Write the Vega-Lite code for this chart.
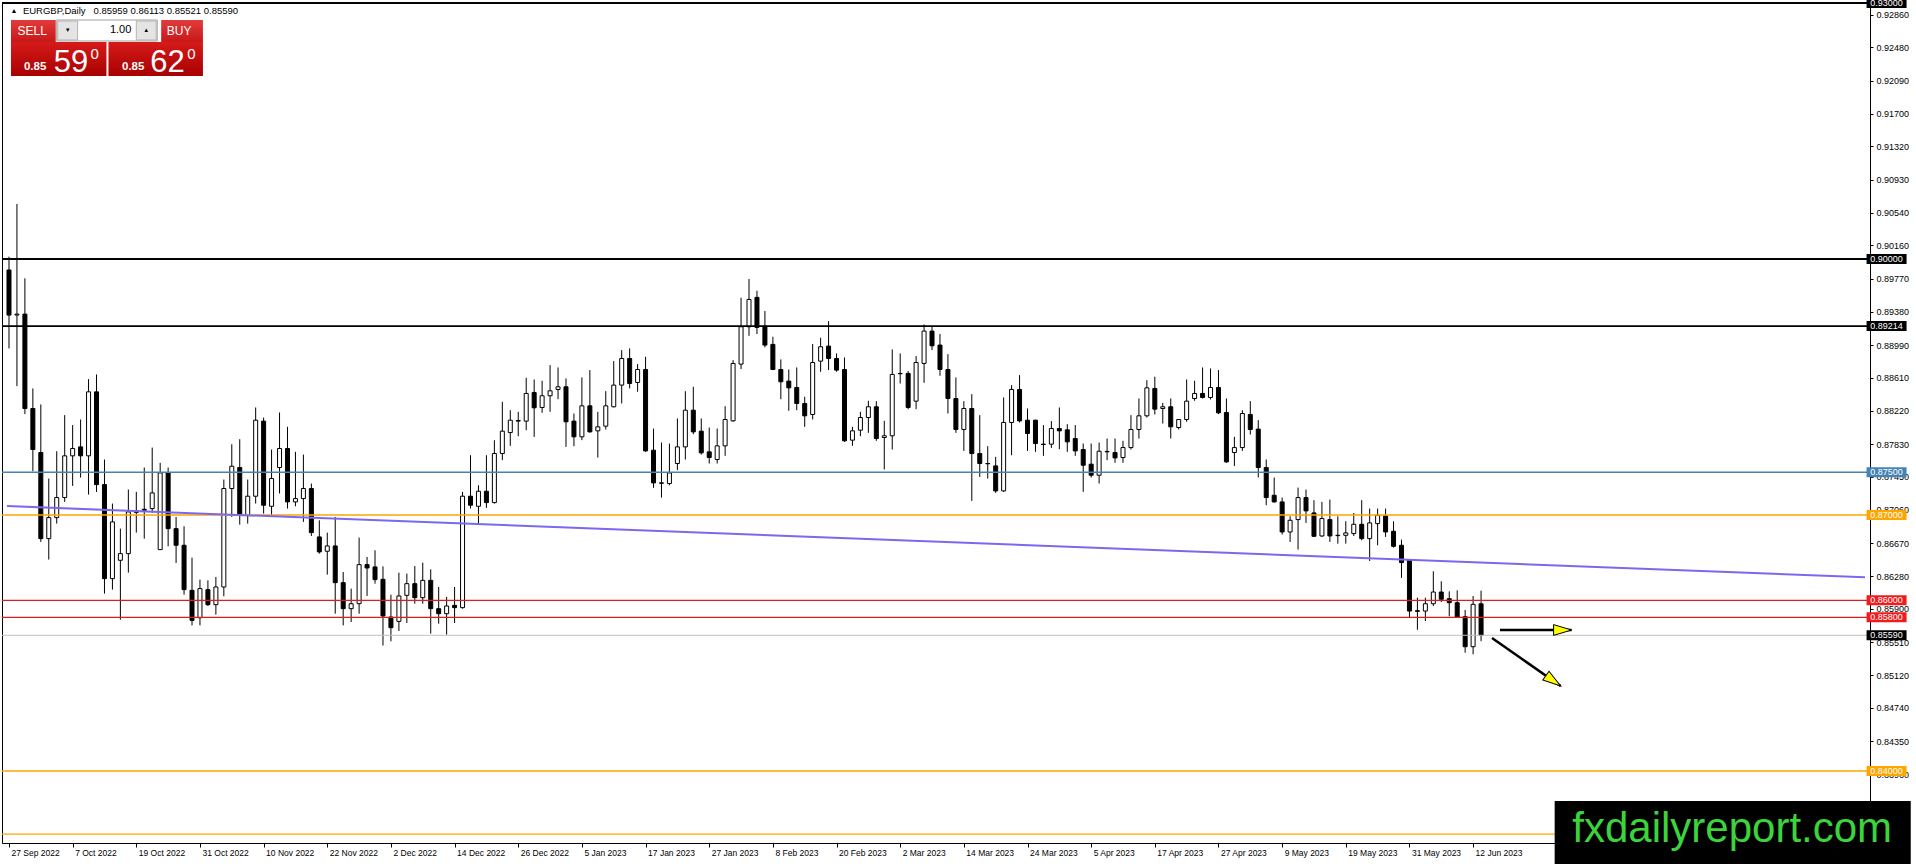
{
  "$schema": "https://vega.github.io/schema/vega-lite/v6.json",
  "width": 1868,
  "height": 841,
  "autosize": "none",
  "padding": {"left": 2, "top": 2, "right": 46, "bottom": 21},
  "background": "#ffffff",
  "config": {
    "view": {"stroke": "#000000", "strokeWidth": 1},
    "font": "Liberation Sans",
    "axis": {"labelOverlap": false, "labelBound": false, "labelFlush": false, "grid": false}
  },
  "datasets": {
    "candles": [
      {"i":0,"o":0.89871,"h":0.90027,"l":0.88952,"c":0.89343},
      {"i":1,"o":0.89343,"h":0.90645,"l":0.8851,"c":0.89354},
      {"i":2,"o":0.89354,"h":0.89773,"l":0.88182,"c":0.88248},
      {"i":3,"o":0.88248,"h":0.88483,"l":0.87513,"c":0.87767},
      {"i":4,"o":0.87732,"h":0.88295,"l":0.86684,"c":0.86723},
      {"i":5,"o":0.86723,"h":0.87427,"l":0.86477,"c":0.86969},
      {"i":6,"o":0.86969,"h":0.87747,"l":0.86899,"c":0.87204},
      {"i":7,"o":0.87204,"h":0.8817,"l":0.87153,"c":0.87693},
      {"i":8,"o":0.87693,"h":0.88053,"l":0.87341,"c":0.87779},
      {"i":9,"o":0.87798,"h":0.88119,"l":0.87439,"c":0.87693},
      {"i":10,"o":0.87693,"h":0.88592,"l":0.87239,"c":0.88443},
      {"i":11,"o":0.88443,"h":0.88647,"l":0.8727,"c":0.87356},
      {"i":12,"o":0.87356,"h":0.8765,"l":0.86078,"c":0.86254},
      {"i":13,"o":0.86254,"h":0.87134,"l":0.86125,"c":0.86919},
      {"i":14,"o":0.86469,"h":0.8684,"l":0.85773,"c":0.86547},
      {"i":15,"o":0.86547,"h":0.87298,"l":0.86324,"c":0.87036},
      {"i":16,"o":0.8703,"h":0.87271,"l":0.86793,"c":0.8705},
      {"i":17,"o":0.87067,"h":0.87556,"l":0.86723,"c":0.87055},
      {"i":18,"o":0.87075,"h":0.8779,"l":0.87024,"c":0.87259},
      {"i":19,"o":0.86594,"h":0.87611,"l":0.86594,"c":0.87493},
      {"i":20,"o":0.87493,"h":0.87556,"l":0.86633,"c":0.8684},
      {"i":21,"o":0.8684,"h":0.86977,"l":0.86438,"c":0.86645},
      {"i":22,"o":0.86645,"h":0.86868,"l":0.86066,"c":0.86125},
      {"i":23,"o":0.86117,"h":0.865,"l":0.85706,"c":0.85765},
      {"i":24,"o":0.85796,"h":0.86242,"l":0.85706,"c":0.86137},
      {"i":25,"o":0.86125,"h":0.86234,"l":0.85933,"c":0.85949},
      {"i":26,"o":0.85949,"h":0.86273,"l":0.85832,"c":0.86156},
      {"i":27,"o":0.86156,"h":0.87415,"l":0.86047,"c":0.8731},
      {"i":28,"o":0.8731,"h":0.87829,"l":0.86977,"c":0.87571},
      {"i":29,"o":0.87556,"h":0.87888,"l":0.86887,"c":0.86997},
      {"i":30,"o":0.86997,"h":0.87415,"l":0.86899,"c":0.8722},
      {"i":31,"o":0.8722,"h":0.8826,"l":0.87134,"c":0.88111},
      {"i":32,"o":0.881,"h":0.88142,"l":0.87016,"c":0.87114},
      {"i":33,"o":0.87102,"h":0.87767,"l":0.86997,"c":0.87427},
      {"i":34,"o":0.87556,"h":0.88201,"l":0.87251,"c":0.87779},
      {"i":35,"o":0.87779,"h":0.88033,"l":0.87075,"c":0.87153},
      {"i":36,"o":0.87153,"h":0.8774,"l":0.87102,"c":0.87192},
      {"i":37,"o":0.87192,"h":0.87708,"l":0.86919,"c":0.8731},
      {"i":38,"o":0.8731,"h":0.87368,"l":0.86754,"c":0.86793},
      {"i":39,"o":0.86743,"h":0.86938,"l":0.86547,"c":0.86567},
      {"i":40,"o":0.86575,"h":0.86793,"l":0.86301,"c":0.86637},
      {"i":41,"o":0.86637,"h":0.86977,"l":0.85843,"c":0.86207},
      {"i":42,"o":0.86207,"h":0.86332,"l":0.85706,"c":0.85902},
      {"i":43,"o":0.85902,"h":0.86137,"l":0.85745,"c":0.8596},
      {"i":44,"o":0.8596,"h":0.86735,"l":0.85843,"c":0.86418},
      {"i":45,"o":0.86418,"h":0.86508,"l":0.86051,"c":0.86379},
      {"i":46,"o":0.86391,"h":0.86586,"l":0.86195,"c":0.86242},
      {"i":47,"o":0.86246,"h":0.86398,"l":0.8547,"c":0.85816},
      {"i":48,"o":0.85804,"h":0.86066,"l":0.8552,"c":0.85679},
      {"i":49,"o":0.85753,"h":0.86324,"l":0.8564,"c":0.86051},
      {"i":50,"o":0.86058,"h":0.86313,"l":0.85734,"c":0.86195},
      {"i":51,"o":0.86195,"h":0.86402,"l":0.8596,"c":0.86031},
      {"i":52,"o":0.86031,"h":0.86441,"l":0.8596,"c":0.86234},
      {"i":53,"o":0.86234,"h":0.86363,"l":0.85609,"c":0.85902},
      {"i":54,"o":0.85902,"h":0.86156,"l":0.85726,"c":0.85843},
      {"i":55,"o":0.85843,"h":0.86039,"l":0.85597,"c":0.85933},
      {"i":56,"o":0.85941,"h":0.86156,"l":0.85734,"c":0.85914},
      {"i":57,"o":0.85914,"h":0.87271,"l":0.85902,"c":0.8722},
      {"i":58,"o":0.8722,"h":0.877,"l":0.87075,"c":0.87114},
      {"i":59,"o":0.87102,"h":0.87349,"l":0.86887,"c":0.87278},
      {"i":60,"o":0.87278,"h":0.877,"l":0.87083,"c":0.87145},
      {"i":61,"o":0.87145,"h":0.87876,"l":0.87134,"c":0.8772},
      {"i":62,"o":0.8772,"h":0.88326,"l":0.87642,"c":0.87982},
      {"i":63,"o":0.87966,"h":0.88228,"l":0.8781,"c":0.88111},
      {"i":64,"o":0.881,"h":0.88209,"l":0.87923,"c":0.88107},
      {"i":65,"o":0.881,"h":0.88608,"l":0.87994,"c":0.88424},
      {"i":66,"o":0.88436,"h":0.88588,"l":0.87915,"c":0.88256},
      {"i":67,"o":0.8826,"h":0.88573,"l":0.88197,"c":0.88397},
      {"i":68,"o":0.88397,"h":0.88756,"l":0.88209,"c":0.88455},
      {"i":69,"o":0.88471,"h":0.88729,"l":0.88357,"c":0.88502},
      {"i":70,"o":0.88502,"h":0.886,"l":0.87798,"c":0.88092},
      {"i":71,"o":0.881,"h":0.88189,"l":0.87806,"c":0.87916},
      {"i":72,"o":0.87916,"h":0.88612,"l":0.87877,"c":0.88279},
      {"i":73,"o":0.88279,"h":0.88698,"l":0.87966,"c":0.87974},
      {"i":74,"o":0.87986,"h":0.88209,"l":0.87673,"c":0.88033},
      {"i":75,"o":0.88041,"h":0.88451,"l":0.88002,"c":0.88279},
      {"i":76,"o":0.88268,"h":0.88803,"l":0.8826,"c":0.88522},
      {"i":77,"o":0.88522,"h":0.88932,"l":0.88307,"c":0.88834},
      {"i":78,"o":0.88834,"h":0.88952,"l":0.88483,"c":0.88541},
      {"i":79,"o":0.88553,"h":0.88768,"l":0.88444,"c":0.88705},
      {"i":80,"o":0.88705,"h":0.88854,"l":0.8774,"c":0.87751},
      {"i":81,"o":0.87759,"h":0.88013,"l":0.87318,"c":0.87376},
      {"i":82,"o":0.87376,"h":0.87849,"l":0.87204,"c":0.87372},
      {"i":83,"o":0.87368,"h":0.87837,"l":0.87349,"c":0.87493},
      {"i":84,"o":0.87603,"h":0.88131,"l":0.87525,"c":0.87798},
      {"i":85,"o":0.87798,"h":0.88451,"l":0.8765,"c":0.88228},
      {"i":86,"o":0.88228,"h":0.88502,"l":0.87947,"c":0.87974},
      {"i":87,"o":0.87982,"h":0.88131,"l":0.87708,"c":0.87728},
      {"i":88,"o":0.8774,"h":0.88025,"l":0.87603,"c":0.87673},
      {"i":89,"o":0.8765,"h":0.88013,"l":0.87603,"c":0.8781},
      {"i":90,"o":0.8781,"h":0.88275,"l":0.87693,"c":0.88119},
      {"i":91,"o":0.88103,"h":0.88815,"l":0.88092,"c":0.88776},
      {"i":92,"o":0.88768,"h":0.89546,"l":0.8871,"c":0.89206},
      {"i":93,"o":0.89206,"h":0.89765,"l":0.891,"c":0.89526},
      {"i":94,"o":0.8955,"h":0.89628,"l":0.8912,"c":0.89198},
      {"i":95,"o":0.89214,"h":0.8939,"l":0.88964,"c":0.88991},
      {"i":96,"o":0.88999,"h":0.89089,"l":0.88698,"c":0.88705},
      {"i":97,"o":0.88705,"h":0.88823,"l":0.88357,"c":0.88561},
      {"i":98,"o":0.88569,"h":0.88705,"l":0.88221,"c":0.8849},
      {"i":99,"o":0.88494,"h":0.88729,"l":0.88228,"c":0.88307},
      {"i":100,"o":0.88307,"h":0.88385,"l":0.88033,"c":0.88162},
      {"i":101,"o":0.88178,"h":0.89003,"l":0.88119,"c":0.88787},
      {"i":102,"o":0.88803,"h":0.89077,"l":0.88678,"c":0.88971},
      {"i":103,"o":0.88979,"h":0.89272,"l":0.88698,"c":0.88834},
      {"i":104,"o":0.88834,"h":0.88893,"l":0.88678,"c":0.88698},
      {"i":105,"o":0.88705,"h":0.88846,"l":0.87857,"c":0.87869},
      {"i":106,"o":0.87877,"h":0.88033,"l":0.8781,"c":0.87986},
      {"i":107,"o":0.87994,"h":0.88209,"l":0.87923,"c":0.88142},
      {"i":108,"o":0.88142,"h":0.88338,"l":0.87962,"c":0.88268},
      {"i":109,"o":0.88268,"h":0.88334,"l":0.87869,"c":0.87896},
      {"i":110,"o":0.87908,"h":0.88103,"l":0.87533,"c":0.87928},
      {"i":111,"o":0.87928,"h":0.8894,"l":0.87767,"c":0.88647},
      {"i":112,"o":0.88659,"h":0.88893,"l":0.88541,"c":0.88655},
      {"i":113,"o":0.88659,"h":0.88686,"l":0.8824,"c":0.8826},
      {"i":114,"o":0.88334,"h":0.88862,"l":0.8824,"c":0.88787},
      {"i":115,"o":0.88776,"h":0.89233,"l":0.88549,"c":0.89155},
      {"i":116,"o":0.89155,"h":0.89214,"l":0.88932,"c":0.88983},
      {"i":117,"o":0.88991,"h":0.8912,"l":0.88631,"c":0.88705},
      {"i":118,"o":0.88705,"h":0.88885,"l":0.88189,"c":0.88365},
      {"i":119,"o":0.88365,"h":0.88612,"l":0.87962,"c":0.88002},
      {"i":120,"o":0.88002,"h":0.88334,"l":0.87751,"c":0.88248},
      {"i":121,"o":0.88248,"h":0.88416,"l":0.87165,"c":0.8772},
      {"i":122,"o":0.8772,"h":0.8817,"l":0.87446,"c":0.87603},
      {"i":123,"o":0.87603,"h":0.87806,"l":0.87427,"c":0.876},
      {"i":124,"o":0.87575,"h":0.87681,"l":0.87259,"c":0.87282},
      {"i":125,"o":0.87282,"h":0.88377,"l":0.87271,"c":0.88084},
      {"i":126,"o":0.88084,"h":0.88522,"l":0.877,"c":0.88471},
      {"i":127,"o":0.88471,"h":0.88639,"l":0.88084,"c":0.88103},
      {"i":128,"o":0.88111,"h":0.88248,"l":0.87751,"c":0.87955},
      {"i":129,"o":0.88111,"h":0.88115,"l":0.8774,"c":0.87837},
      {"i":130,"o":0.8783,"h":0.88053,"l":0.87693,"c":0.87826},
      {"i":131,"o":0.8783,"h":0.881,"l":0.87786,"c":0.88013},
      {"i":132,"o":0.88013,"h":0.8826,"l":0.87771,"c":0.87986},
      {"i":133,"o":0.87998,"h":0.88064,"l":0.8774,"c":0.87857},
      {"i":134,"o":0.87896,"h":0.88053,"l":0.87693,"c":0.87751},
      {"i":135,"o":0.87767,"h":0.87837,"l":0.87271,"c":0.87583},
      {"i":136,"o":0.87595,"h":0.87837,"l":0.87439,"c":0.87466},
      {"i":137,"o":0.87466,"h":0.87849,"l":0.87368,"c":0.87747},
      {"i":138,"o":0.8774,"h":0.87896,"l":0.87642,"c":0.87745},
      {"i":139,"o":0.87732,"h":0.87896,"l":0.87611,"c":0.87669},
      {"i":140,"o":0.87673,"h":0.87869,"l":0.87611,"c":0.8779},
      {"i":141,"o":0.8779,"h":0.8817,"l":0.87767,"c":0.88002},
      {"i":142,"o":0.88002,"h":0.88365,"l":0.87896,"c":0.88162},
      {"i":143,"o":0.88162,"h":0.8858,"l":0.88142,"c":0.8849},
      {"i":144,"o":0.88483,"h":0.8862,"l":0.88178,"c":0.8824},
      {"i":145,"o":0.88248,"h":0.88314,"l":0.88072,"c":0.88268},
      {"i":146,"o":0.88268,"h":0.88365,"l":0.87896,"c":0.88033},
      {"i":147,"o":0.88025,"h":0.88123,"l":0.88002,"c":0.88119},
      {"i":148,"o":0.88119,"h":0.88588,"l":0.88092,"c":0.88334},
      {"i":149,"o":0.88365,"h":0.88573,"l":0.88338,"c":0.88424},
      {"i":150,"o":0.88424,"h":0.88729,"l":0.88365,"c":0.88377},
      {"i":151,"o":0.88377,"h":0.88717,"l":0.88354,"c":0.88494},
      {"i":152,"o":0.88494,"h":0.88698,"l":0.88182,"c":0.88197},
      {"i":153,"o":0.88201,"h":0.88365,"l":0.87611,"c":0.87622},
      {"i":154,"o":0.87732,"h":0.87916,"l":0.87575,"c":0.8779},
      {"i":155,"o":0.8779,"h":0.88228,"l":0.87751,"c":0.88189},
      {"i":156,"o":0.88178,"h":0.88334,"l":0.87943,"c":0.88002},
      {"i":157,"o":0.88006,"h":0.88111,"l":0.87439,"c":0.87556},
      {"i":158,"o":0.87556,"h":0.8765,"l":0.87114,"c":0.87204},
      {"i":159,"o":0.87231,"h":0.87439,"l":0.87145,"c":0.87153},
      {"i":160,"o":0.87153,"h":0.87204,"l":0.8677,"c":0.86801},
      {"i":161,"o":0.86801,"h":0.86985,"l":0.86684,"c":0.86938},
      {"i":162,"o":0.86946,"h":0.87321,"l":0.86594,"c":0.87204},
      {"i":163,"o":0.87204,"h":0.87298,"l":0.86907,"c":0.87048},
      {"i":164,"o":0.87024,"h":0.87173,"l":0.86743,"c":0.8675},
      {"i":165,"o":0.86754,"h":0.87153,"l":0.86743,"c":0.86958},
      {"i":166,"o":0.86946,"h":0.87181,"l":0.86684,"c":0.86754},
      {"i":167,"o":0.86762,"h":0.86985,"l":0.86664,"c":0.86758},
      {"i":168,"o":0.86762,"h":0.86927,"l":0.86664,"c":0.8679},
      {"i":169,"o":0.86782,"h":0.87024,"l":0.86754,"c":0.86891},
      {"i":170,"o":0.86891,"h":0.87173,"l":0.86703,"c":0.86723},
      {"i":171,"o":0.86723,"h":0.87075,"l":0.86461,"c":0.86907},
      {"i":172,"o":0.86899,"h":0.87075,"l":0.86645,"c":0.86997},
      {"i":173,"o":0.86989,"h":0.87075,"l":0.86743,"c":0.86801},
      {"i":174,"o":0.86809,"h":0.86927,"l":0.86617,"c":0.86633},
      {"i":175,"o":0.86645,"h":0.86711,"l":0.86262,"c":0.86442},
      {"i":176,"o":0.86469,"h":0.86475,"l":0.85804,"c":0.85874},
      {"i":177,"o":0.85878,"h":0.86031,"l":0.85655,"c":0.8587},
      {"i":178,"o":0.85874,"h":0.86031,"l":0.85757,"c":0.8596},
      {"i":179,"o":0.8596,"h":0.8634,"l":0.85933,"c":0.86097},
      {"i":180,"o":0.86097,"h":0.86223,"l":0.8598,"c":0.86012},
      {"i":181,"o":0.86019,"h":0.86105,"l":0.85812,"c":0.85972},
      {"i":182,"o":0.85972,"h":0.86117,"l":0.85796,"c":0.85804},
      {"i":183,"o":0.85808,"h":0.85887,"l":0.85386,"c":0.85456},
      {"i":184,"o":0.85456,"h":0.8605,"l":0.85367,"c":0.85953},
      {"i":185,"o":0.85959,"h":0.86113,"l":0.85521,"c":0.8559}
    ],
    "levels": [
      {"p":0.93,"g":"major"},
      {"p":0.9,"g":"major"},
      {"p":0.89214,"g":"minor"},
      {"p":0.875,"g":"steel"},
      {"p":0.87,"g":"orange"},
      {"p":0.86,"g":"red"},
      {"p":0.858,"g":"red"},
      {"p":0.8559,"g":"bid"},
      {"p":0.84,"g":"orange"},
      {"p":0.8326,"g":"orange"}
    ],
    "trend": [
      {"i":-0.25,"p":0.87104},
      {"i":233.25,"p":0.8627}
    ],
    "arrows": [
      {"dir":"flat","i":187.375,"p":0.85652,"i2":196.375,"p2":0.85652},
      {"dir":"down","i":186.375,"p":0.85558,"i2":195.0,"p2":0.84996}
    ],
    "one": [{"n":1}]
  },
  "layer": [
    {
      "data": {"name": "candles"},
      "mark": {"type": "rule", "color": "#000000", "strokeWidth": 1},
      "encoding": {
        "x": {
          "field": "i", "type": "quantitative", "title": null,
          "scale": {"domain": [-0.25, 233.25], "nice": false, "zero": false},
          "axis": {
            "orient": "bottom",
            "values": [0,8,16,24,32,40,48,56,64,72,80,88,96,104,112,120,128,136,144,152,160,168,176,184],
            "tickCount": 100,
            "labelExpr": "['27 Sep 2022','7 Oct 2022','19 Oct 2022','31 Oct 2022','10 Nov 2022','22 Nov 2022','2 Dec 2022','14 Dec 2022','26 Dec 2022','5 Jan 2023','17 Jan 2023','27 Jan 2023','8 Feb 2023','20 Feb 2023','2 Mar 2023','14 Mar 2023','24 Mar 2023','5 Apr 2023','17 Apr 2023','27 Apr 2023','9 May 2023','19 May 2023','31 May 2023','12 Jun 2023'][round(datum.value / 8)]",
            "labelAlign": "left", "labelOffset": 2, "labelPadding": 1, "labelBaseline": "top",
            "tickSize": 4, "tickColor": "#000000", "domainColor": "#000000",
            "labelColor": "#000000", "labelFont": "Liberation Sans", "labelFontSize": 8.5,
            "labelOverlap": false, "labelBound": false, "labelFlush": false, "grid": false
          }
        },
        "y": {
          "field": "l", "type": "quantitative", "title": null,
          "scale": {"domain": [0.831558, 0.930117], "nice": false, "zero": false},
          "axis": {
            "orient": "right",
            "values": [0.9286,0.9248,0.9209,0.917,0.9132,0.9093,0.9054,0.9016,0.8977,0.8938,0.8899,0.8861,0.8822,0.8783,0.8745,0.8706,0.8667,0.8628,0.859,0.8551,0.8512,0.8474,0.8435,0.8396],
            "tickCount": 100,
            "format": ".5f",
            "tickSize": 3, "tickColor": "#000000", "domainColor": "#000000",
            "labelColor": "#000000", "labelFont": "Liberation Sans", "labelFontSize": 9, "labelPadding": 3,
            "labelOverlap": false, "labelBound": false, "labelFlush": false, "grid": false
          }
        },
        "y2": {"field": "h"}
      }
    },
    {
      "data": {"name": "candles"},
      "mark": {"type": "bar", "width": 4, "stroke": "#000000", "strokeWidth": 1},
      "encoding": {
        "x": {"field": "i", "type": "quantitative"},
        "y": {"field": "o", "type": "quantitative"},
        "y2": {"field": "c"},
        "fill": {"condition": {"test": "datum.c >= datum.o", "value": "#ffffff"}, "value": "#000000"}
      }
    },
    {
      "data": {"name": "levels"},
      "mark": {"type": "rule"},
      "encoding": {
        "y": {"field": "p", "type": "quantitative"},
        "stroke": {
          "field": "g", "type": "nominal", "legend": null,
          "scale": {"domain": ["major","minor","steel","orange","red","bid"], "range": ["#000000","#000000","#4682b4","#ffa500","#dd1c1c","#c0c0c0"]}
        },
        "strokeWidth": {
          "field": "g", "type": "ordinal", "legend": null,
          "scale": {"domain": ["major","minor","steel","orange","red","bid"], "range": [2,1,2,2,1,1]}
        }
      }
    },
    {
      "data": {"name": "trend"},
      "mark": {"type": "line", "color": "#7b68ee", "strokeWidth": 2},
      "encoding": {
        "x": {"field": "i", "type": "quantitative"},
        "y": {"field": "p", "type": "quantitative"}
      }
    },
    {
      "data": {"name": "arrows"},
      "mark": {"type": "rule", "color": "#000000", "strokeWidth": 2.5},
      "encoding": {
        "x": {"field": "i", "type": "quantitative"},
        "y": {"field": "p", "type": "quantitative"},
        "x2": {"field": "i2"},
        "y2": {"field": "p2"}
      }
    },
    {
      "data": {"name": "arrows"},
      "transform": [{"filter": "datum.dir == 'flat'"}],
      "mark": {"type": "point", "shape": "M-2,-0.6L0,0L-2,0.6Z", "filled": true, "fill": "#ffff00", "stroke": "#000000", "strokeWidth": 1, "size": 324, "opacity": 1, "angle": 0},
      "encoding": {
        "x": {"field": "i2", "type": "quantitative"},
        "y": {"field": "p2", "type": "quantitative"}
      }
    },
    {
      "data": {"name": "arrows"},
      "transform": [{"filter": "datum.dir == 'down'"}],
      "mark": {"type": "point", "shape": "M-2,-0.6L0,0L-2,0.6Z", "filled": true, "fill": "#ffff00", "stroke": "#000000", "strokeWidth": 1, "size": 324, "opacity": 1, "angle": 35},
      "encoding": {
        "x": {"field": "i2", "type": "quantitative"},
        "y": {"field": "p2", "type": "quantitative"}
      }
    },
    {
      "data": {"name": "levels"},
      "mark": {"type": "point", "shape": "M-1,-0.25H1V0.25H-1Z", "filled": true, "size": 1600, "strokeWidth": 0, "opacity": 1},
      "encoding": {
        "x": {"datum": 235.96},
        "y": {"field": "p", "type": "quantitative"},
        "fill": {
          "field": "g", "type": "nominal", "legend": null,
          "scale": {"domain": ["major","minor","steel","orange","red","bid"], "range": ["#000000","#000000","#4682b4","#ffa500","#ee1c1c","#000000"]}
        }
      }
    },
    {
      "data": {"name": "levels"},
      "mark": {"type": "text", "color": "#ffffff", "fontSize": 9, "font": "Liberation Sans", "align": "center", "baseline": "middle"},
      "encoding": {
        "x": {"datum": 235.96},
        "y": {"field": "p", "type": "quantitative"},
        "text": {"field": "p", "type": "quantitative", "format": ".5f"}
      }
    },
    {
      "data": {"name": "one"},
      "mark": {"type": "text", "color": "#000000", "fontSize": 7, "align": "center", "baseline": "middle"},
      "encoding": {"x": {"datum": 0.625}, "y": {"datum": 0.929062}, "text": {"value": "▲"}}
    },
    {
      "data": {"name": "one"},
      "mark": {"type": "text", "color": "#000000", "fontSize": 9.5, "font": "Liberation Sans", "align": "left", "baseline": "middle"},
      "encoding": {"x": {"datum": 1.75}, "y": {"datum": 0.929062}, "text": {"value": "EURGBP,Daily\u00a0\u00a0 0.85959 0.86113 0.85521 0.85590"}}
    },
    {
      "data": {"name": "one"},
      "mark": {"type": "rect", "fill": {"gradient": "linear", "x1": 0, "y1": 0, "x2": 0, "y2": 1, "stops": [{"offset": 0, "color": "#e23b3b"}, {"offset": 1, "color": "#c81818"}]}},
      "encoding": {"x": {"datum": 0.25}, "x2": {"datum": 5.875}, "y": {"datum": 0.928008}, "y2": {"datum": 0.925429}}
    },
    {
      "data": {"name": "one"},
      "mark": {"type": "rect", "fill": {"gradient": "linear", "x1": 0, "y1": 0, "x2": 0, "y2": 1, "stops": [{"offset": 0, "color": "#e23b3b"}, {"offset": 1, "color": "#c81818"}]}},
      "encoding": {"x": {"datum": 19.125}, "x2": {"datum": 24.375}, "y": {"datum": 0.928008}, "y2": {"datum": 0.925429}}
    },
    {
      "data": {"name": "one"},
      "mark": {"type": "rect", "fill": "#ffffff", "stroke": "#a0a0a0", "strokeWidth": 1},
      "encoding": {"x": {"datum": 6.0}, "x2": {"datum": 18.625}, "y": {"datum": 0.928008}, "y2": {"datum": 0.925547}}
    },
    {
      "data": {"name": "one"},
      "mark": {"type": "rect", "fill": "#e4e4e4", "stroke": "#b4b4b4", "strokeWidth": 1},
      "encoding": {"x": {"datum": 6.125}, "x2": {"datum": 8.625}, "y": {"datum": 0.927891}, "y2": {"datum": 0.925664}}
    },
    {
      "data": {"name": "one"},
      "mark": {"type": "rect", "fill": "#e4e4e4", "stroke": "#b4b4b4", "strokeWidth": 1},
      "encoding": {"x": {"datum": 16.0}, "x2": {"datum": 18.5}, "y": {"datum": 0.927891}, "y2": {"datum": 0.925664}}
    },
    {
      "data": {"name": "one"},
      "mark": {"type": "rect", "fill": {"gradient": "linear", "x1": 0, "y1": 0, "x2": 0, "y2": 1, "stops": [{"offset": 0, "color": "#d61a1a"}, {"offset": 1, "color": "#a80000"}]}},
      "encoding": {"x": {"datum": 0.25}, "x2": {"datum": 12.25}, "y": {"datum": 0.925429}, "y2": {"datum": 0.921445}}
    },
    {
      "data": {"name": "one"},
      "mark": {"type": "rect", "fill": {"gradient": "linear", "x1": 0, "y1": 0, "x2": 0, "y2": 1, "stops": [{"offset": 0, "color": "#d61a1a"}, {"offset": 1, "color": "#a80000"}]}},
      "encoding": {"x": {"datum": 12.5}, "x2": {"datum": 24.375}, "y": {"datum": 0.925429}, "y2": {"datum": 0.921445}}
    },
    {
      "data": {"name": "one"},
      "mark": {"type": "text", "color": "#ffffff", "fontSize": 12, "font": "Liberation Sans", "align": "center", "baseline": "middle"},
      "encoding": {"x": {"datum": 2.9125}, "y": {"datum": 0.926719}, "text": {"value": "SELL"}}
    },
    {
      "data": {"name": "one"},
      "mark": {"type": "text", "color": "#ffffff", "fontSize": 12, "font": "Liberation Sans", "align": "center", "baseline": "middle"},
      "encoding": {"x": {"datum": 21.375}, "y": {"datum": 0.926719}, "text": {"value": "BUY"}}
    },
    {
      "data": {"name": "one"},
      "mark": {"type": "text", "color": "#000000", "fontSize": 11, "font": "Liberation Sans", "align": "right", "baseline": "middle"},
      "encoding": {"x": {"datum": 15.375}, "y": {"datum": 0.926836}, "text": {"value": "1.00"}}
    },
    {
      "data": {"name": "one"},
      "mark": {"type": "text", "color": "#000000", "fontSize": 6, "align": "center", "baseline": "middle"},
      "encoding": {"x": {"datum": 7.375}, "y": {"datum": 0.926836}, "text": {"value": "▼"}}
    },
    {
      "data": {"name": "one"},
      "mark": {"type": "text", "color": "#000000", "fontSize": 6, "align": "center", "baseline": "middle"},
      "encoding": {"x": {"datum": 17.25}, "y": {"datum": 0.926836}, "text": {"value": "▲"}}
    },
    {
      "data": {"name": "one"},
      "mark": {"type": "text", "color": "#ffffff", "fontSize": 11.5, "fontWeight": "bold", "font": "Liberation Sans", "align": "left", "baseline": "alphabetic"},
      "encoding": {"x": {"datum": 1.875}, "y": {"datum": 0.922148}, "text": {"value": "0.85"}}
    },
    {
      "data": {"name": "one"},
      "mark": {"type": "text", "color": "#ffffff", "fontSize": 31, "font": "Liberation Sans", "align": "left", "baseline": "alphabetic"},
      "encoding": {"x": {"datum": 5.625}, "y": {"datum": 0.921914}, "text": {"value": "59"}}
    },
    {
      "data": {"name": "one"},
      "mark": {"type": "text", "color": "#ffffff", "fontSize": 15, "font": "Liberation Sans", "align": "left", "baseline": "alphabetic"},
      "encoding": {"x": {"datum": 10.25}, "y": {"datum": 0.923437}, "text": {"value": "0"}}
    },
    {
      "data": {"name": "one"},
      "mark": {"type": "text", "color": "#ffffff", "fontSize": 11.5, "fontWeight": "bold", "font": "Liberation Sans", "align": "left", "baseline": "alphabetic"},
      "encoding": {"x": {"datum": 14.2}, "y": {"datum": 0.922148}, "text": {"value": "0.85"}}
    },
    {
      "data": {"name": "one"},
      "mark": {"type": "text", "color": "#ffffff", "fontSize": 31, "font": "Liberation Sans", "align": "left", "baseline": "alphabetic"},
      "encoding": {"x": {"datum": 17.75}, "y": {"datum": 0.921914}, "text": {"value": "62"}}
    },
    {
      "data": {"name": "one"},
      "mark": {"type": "text", "color": "#ffffff", "fontSize": 15, "font": "Liberation Sans", "align": "left", "baseline": "alphabetic"},
      "encoding": {"x": {"datum": 22.4}, "y": {"datum": 0.923437}, "text": {"value": "0"}}
    },
    {
      "data": {"name": "one"},
      "mark": {"type": "rect", "fill": "#000000"},
      "encoding": {"x": {"datum": 194.25}, "x2": {"datum": 239.0}, "y": {"datum": 0.836481}, "y2": {"datum": 0.829097}}
    },
    {
      "data": {"name": "one"},
      "mark": {"type": "text", "color": "#3bd43b", "fontSize": 42, "font": "Liberation Sans", "align": "center", "baseline": "alphabetic"},
      "encoding": {"x": {"datum": 216.56}, "y": {"datum": 0.831675}, "text": {"value": "fxdailyreport.com"}}
    }
  ]
}
